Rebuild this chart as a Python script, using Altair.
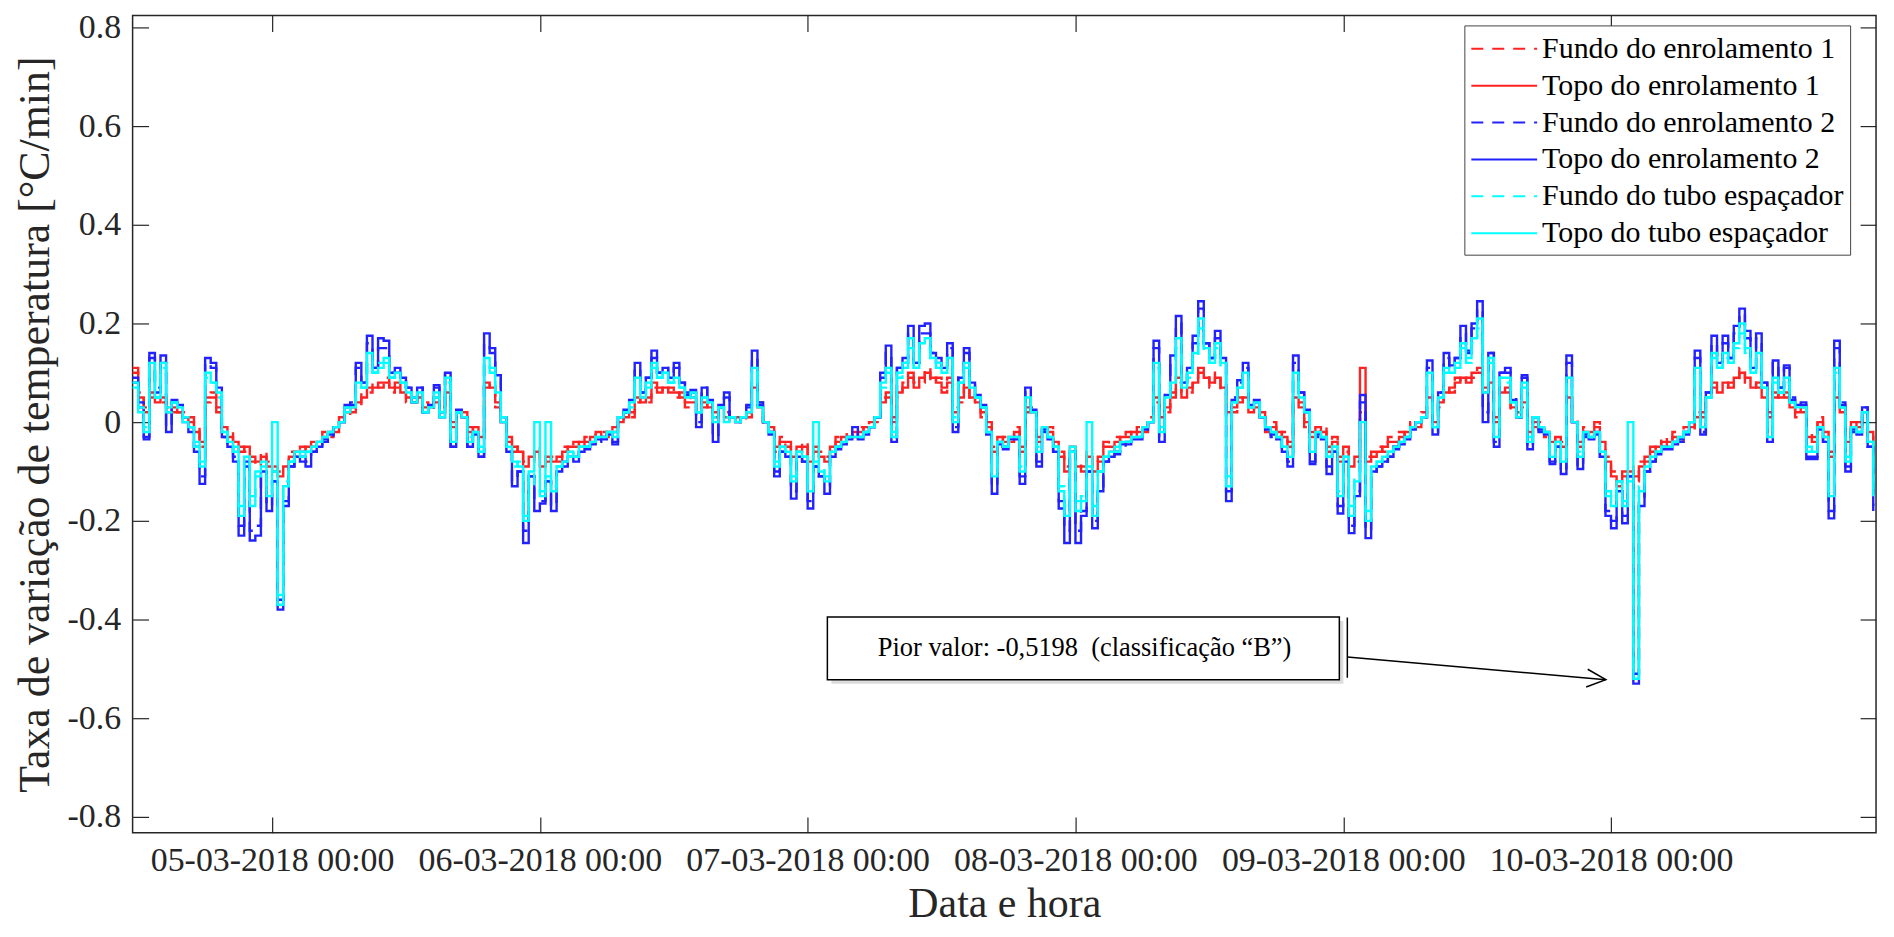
import altair as alt
import pandas as pd

# ---------------- data (30-min steps) ----------------
SERIES = ["Fundo do enrolamento 1", "Topo do enrolamento 1",
          "Fundo do enrolamento 2", "Topo do enrolamento 2",
          "Fundo do tubo espaçador", "Topo do tubo espaçador"]
COLORS = ["#FF2222", "#FF2222", "#2222FF", "#2222FF", "#00FFFF", "#00FFFF"]
DASHES = [[12, 9], [1, 0], [12, 9], [1, 0], [12, 9], [1, 0]]

START = "2018-03-04 11:30"
X_DOMAIN = ["2018-03-04 11:30", "2018-03-10 23:45"]
X_TICKS = ["2018-03-05", "2018-03-06", "2018-03-07", "2018-03-08", "2018-03-09", "2018-03-10"]
Y_TICKS = [-0.8, -0.6, -0.4, -0.2, 0, 0.2, 0.4, 0.6, 0.8]
Y_DOMAIN = [-0.8323, 0.8242]

F1 = [0.11, 0.06, 0.03, 0.05, 0.05, 0.04, 0.03, 0.02, 0.02, 0.02,
      0.01, -0.01, -0.05, 0.04, 0.06, 0.02, -0.02, -0.02, -0.05, -0.05,
      -0.06, -0.07, -0.09, -0.06, -0.08, -0.09, -0.10, -0.10, -0.06, -0.07,
      -0.05, -0.06, -0.04, -0.04, -0.02, -0.03, -0.01, 0.01, 0.01, 0.03,
      0.03, 0.06, 0.06, 0.08, 0.07, 0.09, 0.06, 0.07, 0.07, 0.04,
      0.05, 0.04, 0.04, 0.02, 0.04, 0.03, 0.05, 0.00, 0.01, 0.02,
      -0.01, -0.02, -0.02, 0.07, 0.08, 0.03, 0.01, -0.03, -0.06, -0.05,
      -0.08, -0.08, -0.05, -0.08, -0.08, -0.07, -0.08, -0.05, -0.06, -0.04,
      -0.05, -0.03, -0.04, -0.02, -0.02, -0.03, -0.01, 0.00, 0.02, 0.01,
      0.04, 0.05, 0.04, 0.07, 0.07, 0.06, 0.07, 0.05, 0.06, 0.03,
      0.05, 0.03, 0.03, 0.04, 0.02, 0.02, 0.02, 0.00, 0.01, 0.00,
      0.02, 0.06, 0.04, -0.01, -0.01, -0.06, -0.03, -0.05, -0.06, -0.06,
      -0.04, -0.07, -0.06, -0.06, -0.07, -0.06, -0.03, -0.04, -0.02, -0.03,
      -0.01, -0.02, 0.00, 0.00, 0.05, 0.05, 0.01, 0.05, 0.08, 0.09,
      0.08, 0.08, 0.11, 0.08, 0.09, 0.06, 0.09, 0.03, 0.04, 0.08,
      0.04, 0.05, 0.01, 0.00, -0.05, -0.04, -0.03, -0.04, -0.01, -0.05,
      0.02, 0.03, -0.03, -0.02, -0.01, -0.05, -0.06, -0.09, -0.06, -0.08,
      -0.10, -0.06, -0.09, -0.08, -0.04, -0.06, -0.03, -0.04, -0.02, -0.03,
      -0.01, -0.02, 0.01, 0.04, 0.02, 0.02, 0.06, 0.08, 0.06, 0.06,
      0.09, 0.10, 0.10, 0.07, 0.10, 0.06, 0.03, 0.02, 0.05, 0.04,
      0.03, 0.02, 0.02, -0.02, 0.00, -0.03, -0.02, -0.05, 0.04, 0.04,
      -0.01, -0.02, -0.02, -0.01, -0.06, -0.03, -0.07, -0.06, -0.08, -0.08,
      0.02, -0.07, -0.07, -0.05, -0.06, -0.03, -0.05, -0.02, -0.03, 0.00,
      -0.01, 0.02, 0.04, 0.01, 0.03, 0.07, 0.06, 0.09, 0.08, 0.09,
      0.09, 0.11, 0.07, 0.07, 0.01, 0.05, 0.07, 0.02, 0.02, 0.03,
      -0.01, -0.01, 0.00, -0.03, -0.03, -0.04, -0.04, 0.04, 0.01, -0.05,
      -0.01, -0.03, 0.00, -0.05, -0.07, -0.10, -0.13, -0.10, -0.09, -0.12,
      -0.08, -0.08, -0.05, -0.06, -0.03, -0.05, -0.02, -0.04, -0.01, -0.02,
      0.02, 0.01, 0.06, 0.07, 0.07, 0.07, 0.08, 0.08, 0.11, 0.08,
      0.08, 0.07, 0.06, 0.02, 0.05, 0.06, 0.05, 0.04, 0.01, 0.03,
      -0.02, -0.04, 0.01, -0.03, -0.06, 0.04, 0.03, -0.03, -0.01, 0.00,
      0.01, -0.03, -0.07]

T1 = [0.10, 0.05, 0.02, 0.06, 0.04, 0.05, 0.02, 0.03, 0.02, 0.01,
      0.00, -0.02, -0.04, 0.05, 0.05, 0.03, -0.01, -0.03, -0.04, -0.06,
      -0.05, -0.08, -0.08, -0.07, -0.09, -0.10, -0.11, -0.09, -0.07, -0.06,
      -0.06, -0.05, -0.05, -0.04, -0.03, -0.02, -0.02, 0.00, 0.02, 0.02,
      0.04, 0.05, 0.07, 0.07, 0.08, 0.08, 0.07, 0.08, 0.06, 0.05,
      0.04, 0.05, 0.03, 0.03, 0.05, 0.02, 0.06, -0.01, 0.02, 0.01,
      -0.02, -0.01, -0.03, 0.08, 0.07, 0.04, 0.00, -0.04, -0.05, -0.06,
      -0.09, -0.07, -0.06, -0.09, -0.07, -0.08, -0.07, -0.06, -0.05, -0.05,
      -0.04, -0.04, -0.03, -0.02, -0.03, -0.02, -0.02, 0.00, 0.01, 0.02,
      0.05, 0.04, 0.05, 0.08, 0.06, 0.07, 0.06, 0.06, 0.05, 0.04,
      0.04, 0.02, 0.04, 0.03, 0.01, 0.03, 0.01, 0.01, 0.00, 0.01,
      0.01, 0.07, 0.03, 0.00, -0.02, -0.05, -0.04, -0.04, -0.07, -0.05,
      -0.05, -0.08, -0.05, -0.07, -0.08, -0.05, -0.04, -0.03, -0.03, -0.02,
      -0.02, -0.01, -0.01, 0.01, 0.04, 0.06, 0.00, 0.06, 0.07, 0.10,
      0.07, 0.09, 0.10, 0.09, 0.08, 0.07, 0.08, 0.02, 0.05, 0.07,
      0.05, 0.04, 0.02, -0.01, -0.06, -0.03, -0.04, -0.03, -0.02, -0.06,
      0.03, 0.02, -0.04, -0.01, -0.02, -0.04, -0.07, -0.10, -0.05, -0.09,
      -0.09, -0.07, -0.10, -0.07, -0.05, -0.05, -0.04, -0.03, -0.03, -0.02,
      -0.02, -0.01, 0.00, 0.05, 0.01, 0.03, 0.05, 0.09, 0.05, 0.07,
      0.08, 0.11, 0.09, 0.08, 0.09, 0.07, 0.02, 0.03, 0.04, 0.05,
      0.02, 0.03, 0.01, -0.01, -0.01, -0.02, -0.03, -0.04, 0.05, 0.03,
      0.00, -0.03, -0.01, -0.02, -0.05, -0.04, -0.08, -0.05, -0.09, -0.07,
      0.11, -0.08, -0.06, -0.06, -0.05, -0.04, -0.04, -0.03, -0.02, -0.01,
      0.00, 0.01, 0.05, 0.00, 0.04, 0.06, 0.07, 0.08, 0.09, 0.08,
      0.10, 0.10, 0.06, 0.08, 0.00, 0.06, 0.06, 0.03, 0.01, 0.04,
      -0.02, 0.00, -0.01, -0.02, -0.04, -0.03, -0.05, 0.05, 0.00, -0.04,
      -0.02, -0.02, -0.01, -0.04, -0.08, -0.11, -0.12, -0.11, -0.10, -0.11,
      -0.09, -0.07, -0.06, -0.05, -0.04, -0.04, -0.03, -0.03, -0.02, -0.01,
      0.01, 0.02, 0.05, 0.08, 0.06, 0.08, 0.07, 0.09, 0.10, 0.09,
      0.07, 0.08, 0.05, 0.01, 0.06, 0.05, 0.06, 0.03, 0.02, 0.02,
      -0.03, -0.03, 0.00, -0.02, -0.07, 0.05, 0.02, -0.04, 0.00, -0.01,
      0.02, -0.02, -0.08]

F2 = [0.08, 0.04, -0.03, 0.13, 0.07, 0.12, -0.01, 0.04, 0.03, 0.01,
      -0.02, -0.05, -0.11, 0.12, 0.11, 0.06, -0.03, -0.05, -0.07, -0.21,
      -0.09, -0.22, -0.21, -0.10, -0.17, -0.12, -0.36, -0.16, -0.09, -0.07,
      -0.07, -0.08, -0.06, -0.05, -0.04, -0.03, -0.01, 0.00, 0.03, 0.04,
      0.11, 0.08, 0.16, 0.11, 0.15, 0.15, 0.10, 0.10, 0.09, 0.07,
      0.05, 0.07, 0.02, 0.03, 0.07, 0.02, 0.10, -0.05, 0.02, 0.01,
      -0.05, -0.02, -0.07, 0.16, 0.14, 0.09, 0.01, -0.06, -0.12, -0.10,
      -0.22, -0.11, -0.16, -0.16, -0.12, -0.17, -0.10, -0.08, -0.07, -0.07,
      -0.06, -0.05, -0.04, -0.04, -0.03, -0.03, -0.04, 0.01, 0.02, 0.04,
      0.11, 0.06, 0.09, 0.13, 0.10, 0.11, 0.09, 0.11, 0.08, 0.06,
      0.06, 0.00, 0.07, 0.04, -0.03, 0.03, 0.05, 0.01, 0.00, 0.01,
      0.03, 0.13, 0.04, 0.00, -0.02, -0.10, -0.06, -0.07, -0.14, -0.07,
      -0.08, -0.16, -0.09, -0.11, -0.13, -0.07, -0.05, -0.04, -0.03, -0.02,
      -0.03, -0.02, -0.01, 0.01, 0.09, 0.14, -0.03, 0.11, 0.12, 0.18,
      0.12, 0.18, 0.18, 0.14, 0.12, 0.11, 0.15, -0.01, 0.09, 0.14,
      0.08, 0.05, 0.03, -0.02, -0.13, -0.05, -0.05, -0.04, -0.03, -0.11,
      0.06, 0.03, -0.08, -0.02, -0.03, -0.06, -0.16, -0.22, -0.06, -0.22,
      -0.18, -0.10, -0.20, -0.13, -0.08, -0.07, -0.06, -0.05, -0.04, -0.04,
      -0.03, -0.02, 0.00, 0.15, -0.03, 0.05, 0.12, 0.20, 0.08, 0.11,
      0.16, 0.23, 0.16, 0.13, 0.17, 0.13, -0.14, 0.05, 0.08, 0.11,
      0.04, 0.04, 0.01, -0.01, -0.03, -0.03, -0.06, -0.08, 0.12, 0.06,
      0.02, -0.08, -0.03, -0.03, -0.09, -0.06, -0.17, -0.08, -0.21, -0.14,
      0.04, -0.22, -0.10, -0.09, -0.08, -0.07, -0.05, -0.04, -0.03, -0.02,
      0.00, 0.01, 0.11, -0.02, 0.06, 0.13, 0.11, 0.13, 0.18, 0.14,
      0.19, 0.23, 0.02, 0.14, -0.04, 0.10, 0.10, 0.05, 0.01, 0.09,
      -0.05, 0.01, -0.02, -0.02, -0.08, -0.05, -0.10, 0.12, 0.00, -0.09,
      -0.03, -0.03, -0.02, -0.07, -0.18, -0.20, -0.14, -0.19, -0.11, -0.51,
      -0.16, -0.10, -0.08, -0.07, -0.05, -0.05, -0.04, -0.04, -0.02, 0.00,
      0.13, -0.02, 0.06, 0.16, 0.12, 0.16, 0.13, 0.18, 0.22, 0.17,
      0.11, 0.17, 0.08, -0.03, 0.12, 0.07, 0.11, 0.05, 0.03, 0.04,
      -0.07, -0.07, -0.02, -0.04, -0.18, 0.15, 0.04, -0.09, -0.02, -0.02,
      0.03, -0.05, -0.17]

T2 = [0.09, 0.03, -0.035, 0.14, 0.06, 0.135, -0.02, 0.045, 0.035, 0.00,
      -0.01, -0.06, -0.125, 0.13, 0.12, 0.07, -0.03, -0.05, -0.08, -0.23,
      -0.08, -0.24, -0.23, -0.10, -0.18, -0.12, -0.38, -0.17, -0.09, -0.07,
      -0.08, -0.09, -0.06, -0.05, -0.035, -0.025, -0.01, 0.00, 0.035, 0.035,
      0.12, 0.08, 0.175, 0.11, 0.17, 0.165, 0.10, 0.11, 0.09, 0.07,
      0.04, 0.07, 0.02, 0.035, 0.075, 0.01, 0.10, -0.05, 0.025, 0.01,
      -0.05, -0.025, -0.07, 0.18, 0.15, 0.095, 0.00, -0.06, -0.13, -0.10,
      -0.245, -0.11, -0.18, -0.165, -0.12, -0.18, -0.10, -0.09, -0.07, -0.08,
      -0.06, -0.055, -0.045, -0.035, -0.035, -0.025, -0.045, 0.01, 0.025, 0.045,
      0.12, 0.06, 0.09, 0.145, 0.10, 0.11, 0.09, 0.12, 0.08, 0.055,
      0.065, -0.01, 0.07, 0.045, -0.04, 0.035, 0.06, 0.01, 0.00, 0.01,
      0.035, 0.145, 0.035, 0.00, -0.025, -0.11, -0.06, -0.07, -0.155, -0.07,
      -0.08, -0.175, -0.09, -0.11, -0.145, -0.07, -0.055, -0.045, -0.035, -0.01,
      -0.035, -0.025, -0.01, 0.01, 0.10, 0.155, -0.04, 0.11, 0.13, 0.195,
      0.12, 0.195, 0.20, 0.14, 0.13, 0.11, 0.16, -0.02, 0.09, 0.15,
      0.08, 0.055, 0.035, -0.025, -0.145, -0.045, -0.055, -0.035, -0.035, -0.125,
      0.07, 0.025, -0.09, -0.015, -0.035, -0.06, -0.175, -0.245, -0.06, -0.245,
      -0.19, -0.10, -0.215, -0.14, -0.08, -0.07, -0.065, -0.045, -0.045, -0.035,
      -0.035, -0.015, 0.00, 0.165, -0.04, 0.055, 0.135, 0.215, 0.08, 0.11,
      0.175, 0.245, 0.16, 0.13, 0.185, 0.13, -0.16, 0.045, 0.085, 0.12,
      0.035, 0.045, 0.01, -0.015, -0.025, -0.035, -0.06, -0.09, 0.135, 0.06,
      0.025, -0.085, -0.025, -0.035, -0.105, -0.06, -0.185, -0.08, -0.225, -0.15,
      0.055, -0.235, -0.10, -0.09, -0.08, -0.07, -0.055, -0.045, -0.035, -0.015,
      0.00, 0.01, 0.125, -0.025, 0.06, 0.14, 0.115, 0.13, 0.195, 0.145,
      0.20, 0.245, 0.00, 0.14, -0.05, 0.10, 0.11, 0.045, 0.01, 0.095,
      -0.055, 0.01, -0.015, -0.025, -0.085, -0.05, -0.105, 0.135, 0.00, -0.095,
      -0.025, -0.035, -0.025, -0.07, -0.19, -0.215, -0.14, -0.205, -0.11, -0.53,
      -0.17, -0.10, -0.08, -0.065, -0.055, -0.055, -0.045, -0.035, -0.025, 0.00,
      0.145, -0.025, 0.06, 0.175, 0.12, 0.175, 0.13, 0.195, 0.23, 0.185,
      0.11, 0.18, 0.08, -0.04, 0.125, 0.07, 0.115, 0.045, 0.035, 0.035,
      -0.075, -0.075, -0.015, -0.04, -0.195, 0.165, 0.035, -0.10, -0.015, -0.025,
      0.03, -0.05, -0.18]

FT = [0.07, 0.03, -0.01, 0.11, 0.05, 0.11, 0.02, 0.04, 0.03, 0.01,
      -0.01, -0.04, -0.08, 0.09, 0.08, 0.05, -0.02, -0.04, -0.05, -0.17,
      -0.07, -0.15, -0.11, -0.08, -0.14, -0.10, -0.35, -0.12, -0.08, -0.07,
      -0.06, -0.06, -0.05, -0.04, -0.03, -0.02, -0.01, 0.00, 0.02, 0.03,
      0.07, 0.07, 0.12, 0.10, 0.12, 0.12, 0.09, 0.09, 0.08, 0.06,
      0.05, 0.06, 0.02, 0.03, 0.05, 0.02, 0.08, -0.03, 0.02, 0.01,
      -0.03, -0.02, -0.05, 0.12, 0.11, 0.06, 0.01, -0.05, -0.09, -0.08,
      -0.19, -0.10, -0.13, -0.14, -0.11, -0.13, -0.09, -0.07, -0.07, -0.06,
      -0.05, -0.05, -0.04, -0.03, -0.03, -0.02, -0.02, 0.01, 0.02, 0.03,
      0.08, 0.06, 0.07, 0.11, 0.09, 0.10, 0.08, 0.08, 0.07, 0.05,
      0.05, 0.02, 0.05, 0.04, 0.01, 0.03, 0.01, 0.01, 0.00, 0.01,
      0.02, 0.10, 0.03, 0.00, -0.02, -0.08, -0.05, -0.06, -0.11, -0.06,
      -0.07, -0.13, -0.08, -0.09, -0.11, -0.06, -0.05, -0.04, -0.03, -0.03,
      -0.03, -0.02, -0.01, 0.01, 0.07, 0.10, -0.02, 0.09, 0.11, 0.15,
      0.11, 0.15, 0.15, 0.13, 0.11, 0.10, 0.12, 0.01, 0.08, 0.11,
      0.07, 0.05, 0.03, -0.02, -0.10, -0.04, -0.05, -0.03, -0.03, -0.09,
      0.04, 0.02, -0.05, -0.01, -0.03, -0.05, -0.13, -0.17, -0.06, -0.16,
      -0.15, -0.09, -0.17, -0.10, -0.07, -0.06, -0.05, -0.04, -0.04, -0.03,
      -0.03, -0.01, 0.00, 0.11, -0.01, 0.05, 0.08, 0.15, 0.07, 0.09,
      0.13, 0.19, 0.14, 0.12, 0.15, 0.11, -0.11, 0.04, 0.07, 0.09,
      0.03, 0.04, 0.01, -0.01, -0.02, -0.03, -0.05, -0.06, 0.09, 0.05,
      0.02, -0.05, -0.02, -0.03, -0.07, -0.05, -0.14, -0.07, -0.17, -0.11,
      -0.08, -0.18, -0.09, -0.08, -0.07, -0.06, -0.05, -0.04, -0.03, -0.01,
      0.00, 0.01, 0.09, -0.01, 0.05, 0.10, 0.10, 0.11, 0.15, 0.12,
      0.16, 0.19, 0.07, 0.12, -0.02, 0.09, 0.08, 0.04, 0.02, 0.07,
      -0.03, 0.01, -0.01, -0.02, -0.06, -0.04, -0.08, 0.08, 0.00, -0.06,
      -0.02, -0.03, -0.02, -0.06, -0.14, -0.16, -0.12, -0.16, -0.12, -0.50,
      -0.13, -0.09, -0.07, -0.06, -0.05, -0.05, -0.04, -0.03, -0.02, 0.00,
      0.10, -0.01, 0.05, 0.13, 0.11, 0.13, 0.12, 0.15, 0.18, 0.14,
      0.10, 0.13, 0.07, -0.02, 0.08, 0.06, 0.08, 0.04, 0.03, 0.03,
      -0.05, -0.06, -0.01, -0.03, -0.14, 0.10, 0.03, -0.07, -0.01, -0.02,
      0.02, -0.04, -0.14]

TT = [0.08, 0.02, -0.02, 0.12, 0.05, 0.12, 0.03, 0.04, 0.03, 0.00,
      -0.01, -0.05, -0.09, 0.10, 0.08, 0.06, -0.02, -0.04, -0.06, -0.19,
      -0.07, -0.17, -0.10, -0.09, -0.15, 0.00, -0.37, -0.13, -0.08, -0.06,
      -0.07, -0.06, -0.05, -0.04, -0.03, -0.02, -0.01, 0.00, 0.03, 0.03,
      0.08, 0.07, 0.14, 0.10, 0.11, 0.13, 0.09, 0.10, 0.08, 0.06,
      0.04, 0.06, 0.02, 0.03, 0.06, 0.01, 0.09, -0.04, 0.02, 0.01,
      -0.04, -0.02, -0.06, 0.13, 0.10, 0.06, 0.00, -0.05, -0.08, -0.09,
      -0.20, -0.10, 0.00, -0.15, 0.00, -0.14, -0.09, -0.08, -0.06, -0.07,
      -0.05, -0.05, -0.04, -0.03, -0.03, -0.02, -0.03, 0.01, 0.02, 0.04,
      0.09, 0.05, 0.08, 0.12, 0.09, 0.10, 0.08, 0.09, 0.07, 0.05,
      0.06, 0.02, 0.05, 0.04, 0.00, 0.03, 0.00, 0.01, 0.00, 0.01,
      0.02, 0.11, 0.03, 0.00, -0.02, -0.09, -0.05, -0.06, -0.12, -0.06,
      -0.07, -0.14, 0.00, -0.10, -0.12, -0.06, -0.05, -0.04, -0.03, -0.03,
      -0.03, -0.02, -0.01, 0.01, 0.08, 0.11, -0.03, 0.10, 0.12, 0.17,
      0.11, 0.16, 0.17, 0.13, 0.12, 0.10, 0.13, 0.00, 0.08, 0.12,
      0.07, 0.05, 0.03, -0.02, -0.11, -0.04, -0.05, -0.03, -0.03, -0.10,
      0.05, 0.02, -0.06, -0.01, -0.03, -0.05, -0.14, -0.19, -0.05, -0.18,
      -0.16, 0.00, -0.19, -0.10, -0.07, -0.06, -0.06, -0.04, -0.04, -0.03,
      -0.03, -0.01, 0.00, 0.12, -0.02, 0.05, 0.08, 0.17, 0.07, 0.10,
      0.14, 0.21, 0.15, 0.12, 0.16, 0.12, -0.13, 0.04, 0.07, 0.10,
      0.03, 0.04, 0.01, -0.01, -0.02, -0.03, -0.05, -0.07, 0.10, 0.05,
      0.02, -0.06, -0.02, -0.03, -0.07, -0.05, -0.15, -0.07, -0.19, -0.12,
      0.00, -0.20, -0.09, -0.08, -0.07, -0.06, -0.05, -0.04, -0.03, -0.01,
      0.00, 0.01, 0.10, -0.01, 0.05, 0.11, 0.10, 0.12, 0.16, 0.13,
      0.17, 0.21, 0.06, 0.13, -0.03, 0.09, 0.09, 0.04, 0.01, 0.08,
      -0.04, 0.01, -0.01, -0.02, -0.07, -0.04, -0.08, 0.09, 0.00, -0.07,
      -0.02, -0.03, -0.02, -0.06, -0.15, -0.17, -0.12, -0.17, 0.00, -0.52,
      -0.14, -0.09, -0.07, -0.06, -0.05, -0.05, -0.04, -0.03, -0.02, 0.00,
      0.11, -0.01, 0.05, 0.14, 0.11, 0.14, 0.12, 0.16, 0.20, 0.15,
      0.10, 0.14, 0.07, -0.03, 0.09, 0.06, 0.09, 0.04, 0.03, 0.03,
      -0.06, -0.06, -0.01, -0.03, -0.15, 0.11, 0.03, -0.08, -0.01, -0.02,
      0.02, -0.04, -0.15]

# annotation (data space)
ANNOT_TEXT = "Pior valor: -0,5198\u00a0 (classificação \u201cB\u201d)"
ANNOT_BOX = {"x0": "2018-03-07 01:46", "x1": "2018-03-08 23:39", "y0": -0.395, "y1": -0.522}
ANNOT_TEXT_POS = {"x": "2018-03-08 00:49", "y": -0.458}
ARROW = {"x0": "2018-03-09 00:22", "y0": -0.476, "x1": "2018-03-09 23:32", "y1": -0.522}
ARROW_BAR = {"x": "2018-03-09 00:22", "y0": -0.396, "y1": -0.518}


def ms(s):
    return int(pd.Timestamp(s, tz="UTC").value // 10**6)


# ---------------- build tables ----------------
all_series = [F1, T1, F2, T2, FT, TT]
n = min(len(s) for s in all_series)
times = [int(t.value // 10**6) for t in pd.date_range(START, periods=n, freq="30min", tz="UTC")]
rows = []
for name, vals in zip(SERIES, all_series):
    for t, v in zip(times, vals[:n]):
        rows.append({"time": t, "value": v, "series": name})
df = pd.DataFrame(rows)

xscale = alt.Scale(type="utc", domain=[ms(X_DOMAIN[0]), ms(X_DOMAIN[1])], nice=False)
yscale = alt.Scale(domain=Y_DOMAIN, nice=False, zero=False)

FONT = "Liberation Serif"
AX_COLOR = "#262626"
TICK = 16

x_axis = alt.Axis(
    orient="bottom", values=[ms(v) for v in X_TICKS],
    labelExpr="utcFormat(datum.value, '%d-%m-%Y %H:%M')",
    offset=-TICK, tickSize=TICK, ticks=True, domain=False, grid=False,
    tickColor=AX_COLOR, tickWidth=1.2,
    labelFont=FONT, labelFontSize=34, labelColor=AX_COLOR, labelPadding=38,
    labelBaseline="alphabetic", labelAlign="center", labelOverlap=False, labelFlush=False,
    labelLimit=500,
    title="Data e hora", titleFont=FONT, titleFontSize=42, titleFontWeight="normal",
    titleColor=AX_COLOR, titleBaseline="alphabetic", titleAlign="center",
    titleX=874.5, titleY=100,
)
y_axis = alt.Axis(
    orient="left", values=Y_TICKS,
    labelExpr="datum.value == 0 ? '0' : (datum.value < 0 ? '-' : '') + format(abs(datum.value), '.1f')",
    offset=-TICK, tickSize=TICK, ticks=True, domain=False, grid=False,
    tickColor=AX_COLOR, tickWidth=1.2,
    labelFont=FONT, labelFontSize=34, labelColor=AX_COLOR, labelPadding=12,
    labelBaseline="middle", labelAlign="right", labelOverlap=False, labelFlush=False,
    labelLimit=300,
    title="Taxa de variação de temperatura [°C/min]", titleFont=FONT, titleFontSize=44,
    titleFontWeight="normal", titleColor=AX_COLOR, titleAngle=270,
    titleBaseline="alphabetic", titleAlign="center", titleX=-100, titleY=410,
)
top_axis = alt.Axis(orient="top", values=[ms(v) for v in X_TICKS], offset=-TICK, tickSize=TICK,
                    labels=False, domain=False, grid=False, title=None,
                    tickColor=AX_COLOR, tickWidth=1.2)
right_axis = alt.Axis(orient="right", values=Y_TICKS, offset=-TICK, tickSize=TICK,
                      labels=False, domain=False, grid=False, title=None,
                      tickColor=AX_COLOR, tickWidth=1.2)

legend = alt.Legend(
    orient="none", legendX=1336, legendY=10, title=None,
    symbolType="M -1 0 H 3", symbolSize=1089, symbolStrokeWidth=2,
    labelFont=FONT, labelFontSize=30, labelColor="#000000", labelOffset=37, labelLimit=600,
    strokeColor="#444444", fillColor="#ffffff", padding=6, rowPadding=4,
)

lines = alt.Chart(df).mark_line(interpolate="step-after", strokeWidth=2.4).encode(
    x=alt.X("time:T", scale=xscale, axis=x_axis),
    y=alt.Y("value:Q", scale=yscale, axis=y_axis),
    color=alt.Color("series:N", scale=alt.Scale(domain=SERIES, range=COLORS), legend=legend, sort=SERIES),
    strokeDash=alt.StrokeDash("series:N", scale=alt.Scale(domain=SERIES, range=DASHES), legend=legend, sort=SERIES),
)

mirror = alt.Chart(pd.DataFrame({"t": [ms(X_TICKS[0])], "v": [0.0]})).mark_point(opacity=0).encode(
    x=alt.X("t:T", scale=xscale, axis=top_axis),
    y=alt.Y("v:Q", scale=yscale, axis=right_axis),
)

box_df = pd.DataFrame({"x0": [ms(ANNOT_BOX["x0"])], "x1": [ms(ANNOT_BOX["x1"])],
                       "y0": [ANNOT_BOX["y0"]], "y1": [ANNOT_BOX["y1"]]})
shadow = alt.Chart(box_df).mark_rect(fill="#9a9a9a", opacity=0.35, xOffset=4, x2Offset=4,
                                     yOffset=4, y2Offset=4).encode(
    x=alt.X("x0:T", scale=xscale, axis=None), x2="x1:T",
    y=alt.Y("y0:Q", scale=yscale, axis=None), y2="y1:Q")
box = alt.Chart(box_df).mark_rect(fill="white", stroke="black", strokeWidth=1.5).encode(
    x=alt.X("x0:T", scale=xscale, axis=None), x2="x1:T",
    y=alt.Y("y0:Q", scale=yscale, axis=None), y2="y1:Q")

txt_df = pd.DataFrame({"x": [ms(ANNOT_TEXT_POS["x"])], "y": [ANNOT_TEXT_POS["y"]], "label": [ANNOT_TEXT]})
text = alt.Chart(txt_df).mark_text(font=FONT, fontSize=26.5, color="#000000",
                                   align="center", baseline="middle").encode(
    x=alt.X("x:T", scale=xscale, axis=None), y=alt.Y("y:Q", scale=yscale, axis=None), text="label:N")

arrow_df = pd.DataFrame({"x0": [ms(ARROW["x0"])], "y0": [ARROW["y0"]],
                         "x1": [ms(ARROW["x1"])], "y1": [ARROW["y1"]]})
arrow_line = alt.Chart(arrow_df).mark_rule(color="black", strokeWidth=1.5).encode(
    x=alt.X("x0:T", scale=xscale, axis=None), x2="x1:T",
    y=alt.Y("y0:Q", scale=yscale, axis=None), y2="y1:Q")
arrow_head = alt.Chart(arrow_df).mark_point(shape="M -1 -0.47 L 0 0 L -1 0.47", filled=False,
                                            size=1444, strokeWidth=1.5, color="black",
                                            opacity=1, angle=4.9).encode(
    x=alt.X("x1:T", scale=xscale, axis=None), y=alt.Y("y1:Q", scale=yscale, axis=None))

bar_df = pd.DataFrame({"x": [ms(ARROW_BAR["x"])], "y0": [ARROW_BAR["y0"]], "y1": [ARROW_BAR["y1"]]})
arrow_bar = alt.Chart(bar_df).mark_rule(color="black", strokeWidth=1.5).encode(
    x=alt.X("x:T", scale=xscale, axis=None),
    y=alt.Y("y0:Q", scale=yscale, axis=None), y2="y1:Q")

chart = alt.layer(lines, mirror, shadow, box, text, arrow_line, arrow_head, arrow_bar).resolve_axis(
    x="independent", y="independent"
).properties(
    width=1749, height=820,
    autosize=alt.AutoSizeParams(type="none"),
    padding={"left": 125, "top": 6, "right": 10, "bottom": 94},
    background="white",
).configure(
    font=FONT,
    style={"guide-label": {"font": FONT}, "guide-title": {"font": FONT}},
).configure_axis(
    labelFont=FONT, titleFont=FONT
).configure_legend(
    labelFont=FONT, titleFont=FONT
).configure_text(
    font=FONT
).configure_view(stroke=AX_COLOR, strokeWidth=1.5)

chart.save("out.html", embed_options={"renderer": "svg", "actions": False})
